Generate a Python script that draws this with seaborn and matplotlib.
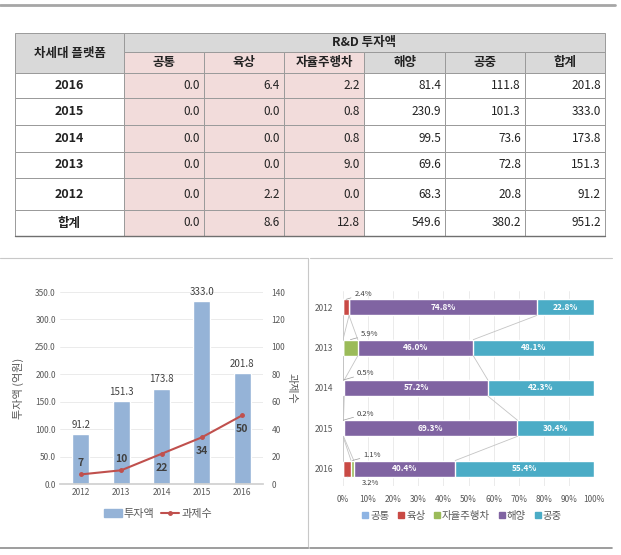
import seaborn as sns
import pandas as pd
import numpy as np
from matplotlib import pyplot as plt
from matplotlib.patches import Rectangle, Patch
from matplotlib.lines import Line2D

# table data (rows top to bottom)
row_labels = ['2016', '2015', '2014', '2013', '2012', '합계']
sub_cols = ['공통', '육상', '자율주행차', '해양', '공중', '합계']
common = [0.0, 0.0, 0.0, 0.0, 0.0, 0.0]
land = [6.4, 0.0, 0.0, 0.0, 2.2, 8.6]
auto = [2.2, 0.8, 0.8, 9.0, 0.0, 12.8]
sea = [81.4, 230.9, 99.5, 69.6, 68.3, 549.6]
air = [111.8, 101.3, 73.6, 72.8, 20.8, 380.2]
total = [201.8, 333.0, 173.8, 151.3, 91.2, 951.2]

# left chart
bar_years = ['2012', '2013', '2014', '2015', '2016']
invest = [91.2, 151.3, 173.8, 333.0, 201.8]
tasks = [7, 10, 22, 34, 50]

# right chart (share %)
share_years = ['2012', '2013', '2014', '2015', '2016']
share_common = [0.0, 0.0, 0.0, 0.0, 0.0]
share_land = [2.4, 0.0, 0.0, 0.0, 3.2]
share_auto = [0.0, 5.9, 0.5, 0.2, 1.1]
share_sea = [74.8, 46.0, 57.2, 69.3, 40.4]
share_air = [22.8, 48.1, 42.3, 30.4, 55.4]

sns.set_theme(style='white')
plt.rcParams['font.family'] = ['Noto Sans CJK KR', 'DejaVu Sans']

W, H = 621, 555
fig = plt.figure(figsize=(W / 100, H / 100), dpi=100)

bg = fig.add_axes([0, 0, 1, 1])
bg.set_xlim(0, W)
bg.set_ylim(H, 0)
bg.axis('off')

# decorative lines
bg.plot([0, 615], [5, 5], color='#a6a6a6', lw=2)
bg.plot([0, 308], [258, 258], color='#c8c8c8', lw=0.8)
bg.plot([310, 612], [258, 258], color='#c8c8c8', lw=0.8)
bg.plot([308, 308], [258, 548], color='#c8c8c8', lw=0.8)
bg.plot([0, 308], [548, 548], color='#8c8c8c', lw=1.2)
bg.plot([310, 612], [548, 548], color='#8c8c8c', lw=1.2)

# ---- table ----
xs = [15, 124, 204, 284, 364, 445, 525, 605]
ys = [33, 52, 73, 98, 125, 152, 178, 210, 236]
gray = '#d9d9d9'
pink = '#f2dcdb'
edge = '#9a9a9a'


def cell(x0, x1, y0, y1, fc):
    bg.add_patch(Rectangle((x0, y0), x1 - x0, y1 - y0, facecolor=fc,
                           edgecolor=edge, lw=0.7))


cell(xs[0], xs[1], ys[0], ys[2], gray)
bg.text((xs[0] + xs[1]) / 2, (ys[0] + ys[2]) / 2, '차세대 플랫폼', ha='center',
        va='center', fontsize=9, fontweight='bold', color='#222222')
cell(xs[1], xs[7], ys[0], ys[1], gray)
bg.text((xs[1] + xs[7]) / 2, (ys[0] + ys[1]) / 2, 'R&D 투자액', ha='center',
        va='center', fontsize=9, fontweight='bold', color='#222222')
for j, name in enumerate(sub_cols):
    fc = pink if j < 3 else gray
    cell(xs[j + 1], xs[j + 2], ys[1], ys[2], fc)
    bg.text((xs[j + 1] + xs[j + 2]) / 2, (ys[1] + ys[2]) / 2, name, ha='center',
            va='center', fontsize=9, fontweight='bold', color='#222222')

cols = [common, land, auto, sea, air, total]
for i, lab in enumerate(row_labels):
    y0, y1 = ys[i + 2], ys[i + 3]
    cell(xs[0], xs[1], y0, y1, 'white')
    bg.text((xs[0] + xs[1]) / 2, (y0 + y1) / 2, lab, ha='center', va='center',
            fontsize=9, fontweight='bold', color='#222222')
    for j, vals in enumerate(cols):
        fc = pink if j < 3 else 'white'
        cell(xs[j + 1], xs[j + 2], y0, y1, fc)
        bg.text(xs[j + 2] - 4, (y0 + y1) / 2, f'{vals[i]:.1f}', ha='right',
                va='center', fontsize=8.5, color='#222222')
bg.plot([xs[0], xs[7]], [ys[-1], ys[-1]], color='#6f6f6f', lw=1)

# ---- left chart ----
tick_col = '#595959'
ax1 = fig.add_axes([60 / W, 1 - 484 / H, 203 / W, 192 / H])
df_bar = pd.DataFrame({'year': bar_years, 'invest': invest})
sns.barplot(data=df_bar, x='year', y='invest', color='#95b3d7', saturation=1,
            width=0.42, ax=ax1)
ax1.set_xlim(-0.52, 4.52)
ax1.set_ylim(0, 350)
ax1.set_yticks(np.arange(0, 351, 50))
ax1.set_yticklabels([f'{v:.1f}' for v in np.arange(0, 351, 50)])
ax1.grid(axis='y', color='#e8e8e8', lw=0.6)
ax1.set_axisbelow(True)
for s in ['top', 'right', 'left']:
    ax1.spines[s].set_visible(False)
ax1.spines['bottom'].set_color('#d0d0d0')
ax1.tick_params(axis='both', labelsize=6, colors=tick_col, length=0, pad=3)
ax1.set_xlabel('')
ax1.set_ylabel('투자액 (억원)', fontsize=8, color=tick_col, labelpad=8)
ax1.bar_label(ax1.containers[0], fmt='%.1f', padding=3, fontsize=7,
              color='#404040')

ax2 = ax1.twinx()
ax2.plot(np.arange(len(tasks)), tasks, color='#c0504d', lw=1.5, marker='o', ms=2.5)
ax2.set_ylim(0, 140)
ax2.set_yticks(np.arange(0, 141, 20))
for s in ['top', 'right', 'left', 'bottom']:
    ax2.spines[s].set_visible(False)
ax2.tick_params(axis='y', labelsize=6, colors=tick_col, length=0, pad=6)
ax2.set_ylabel('과제수', fontsize=8, color=tick_col, rotation=270, labelpad=8)
offs = [8, 8, -10, -10, -10]
for i, v in enumerate(tasks):
    ax2.annotate(str(v), (i, v), xytext=(0, offs[i]), textcoords='offset points',
                 ha='center', va='center', fontsize=7.5, fontweight='bold',
                 color='#404040')

fig.legend(handles=[Patch(color='#95b3d7', label='투자액'),
                    Line2D([], [], color='#c0504d', lw=1.5, marker='o', ms=2.5,
                           label='과제수')],
           loc='center', bbox_to_anchor=(158 / W, 1 - 514 / H), ncol=2,
           frameon=False, fontsize=8, handlelength=1.6, handletextpad=0.2,
           columnspacing=0.6, labelcolor=tick_col)

# ---- right chart ----
ax3 = fig.add_axes([343 / W, 1 - 485.5 / H, 251 / W, 195 / H])
series = [('공통', share_common, '#8eb4e3'), ('육상', share_land, '#c94a45'),
          ('자율주행차', share_auto, '#9bbb59'), ('해양', share_sea, '#8064a2'),
          ('공중', share_air, '#4bacc6')]
cum = np.cumsum([s[1] for s in series], axis=0)
for k in range(len(series) - 1, -1, -1):
    df_s = pd.DataFrame({'year': share_years, 'val': cum[k]})
    sns.barplot(data=df_s, x='val', y='year', orient='h', color=series[k][2],
                saturation=1, width=0.4, ax=ax3)
ax3.set_xlim(0, 100)
ax3.set_xticks(np.arange(0, 101, 10))
ax3.set_xticklabels([f'{v}%' for v in range(0, 101, 10)])
ax3.grid(axis='x', color='#e8e8e8', lw=0.6)
ax3.set_axisbelow(True)
for s in ax3.spines.values():
    s.set_visible(False)
ax3.tick_params(axis='both', labelsize=6, colors=tick_col, length=0, pad=7)
ax3.set_xlabel('')
ax3.set_ylabel('')

# series lines between bars
for k in range(len(series) - 1):
    for i in range(len(share_years) - 1):
        ax3.plot([cum[k][i], cum[k][i + 1]], [i + 0.2, i + 0.8], color='#c4c4c4',
                 lw=0.6, zorder=1)

# inside labels
for k in (3, 4):
    vals = series[k][1]
    for i, v in enumerate(vals):
        ax3.text(cum[k][i] - v / 2, i, f'{v:.1f}%', ha='center', va='center',
                 fontsize=6, fontweight='bold', color='white')

# small labels with leader lines: (row, series index, text x, text y)
small = [(0, 1, 8, -0.33), (1, 2, 10.5, -0.33), (2, 2, 9, -0.36),
         (3, 2, 9, -0.36), (4, 2, 11.5, -0.33), (4, 1, 11, 0.36)]
for i, k, tx, dy in small:
    v = series[k][1][i]
    xm = cum[k][i] - v / 2
    ya = i - 0.2 if dy < 0 else i + 0.2
    ax3.annotate(f'{v:.1f}%', (xm, ya), xytext=(tx, i + dy), ha='center',
                 va='center', fontsize=5.5, color='#404040',
                 arrowprops=dict(arrowstyle='-', color='#9a9a9a', lw=0.5,
                                 shrinkA=8, shrinkB=0))

fig.legend(handles=[Line2D([], [], ls='', marker='s', ms=4, color=c, label=n)
                    for n, _, c in series],
           loc='center', bbox_to_anchor=(462 / W, 1 - 516 / H), ncol=5,
           frameon=False, fontsize=7.5, handlelength=0.6, handletextpad=0.2,
           columnspacing=0.8, labelcolor=tick_col)

fig.savefig('out.png', dpi=100)
